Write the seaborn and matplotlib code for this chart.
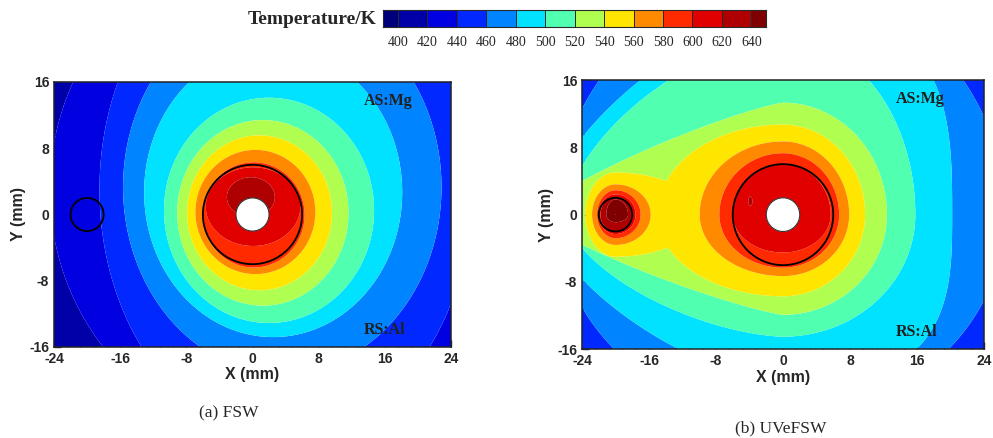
import numpy as np
import matplotlib
matplotlib.use("Agg")
import matplotlib.pyplot as plt
from matplotlib.colors import ListedColormap
from matplotlib.patches import Circle
from matplotlib.ticker import MultipleLocator
import seaborn as sns

# ---------------------------------------------------------------- data
levels = [400, 420, 440, 460, 480, 500, 520, 540, 560, 580, 600, 620, 640]
band_colors = ["#00007A", "#0000A8", "#0000E0", "#0028FF", "#0084FF", "#00E2FF",
               "#50FFB0", "#B0FF50", "#FFE600", "#FF8A00", "#FF2A00", "#E00000",
               "#AE0000", "#7E0000"]

# FSW isotherms: centre (mm) and half-widths towards +x, +y, -x, -y (mm)
fsw_cx = [4.0, 4.0, 4.0, 3.6, 2.5, 2.0, 1.25, 0.85, 0.35, 0.15, 0.07, -0.2, 0.0]
fsw_cy = [3.0, 3.0, 3.0, 3.3, 2.7, 0.5, 0.2, 0.2, 0.3, -0.05, 0.95, 2.1, 0.0]
fsw_right = [34.0, 28.5, 22.5, 19.25, 15.6, 12.7, 10.35, 8.75, 7.25, 6.15, 5.72, 2.9, 0.0]
fsw_top = [36.0, 30.0, 30.0, 22.5, 17.5, 13.6, 11.2, 9.35, 7.5, 6.35, 4.75, 2.4, 0.0]
fsw_left = [34.0, 28.5, 22.5, 19.25, 15.6, 12.7, 10.35, 8.75, 7.25, 6.15, 5.72, 2.9, 0.0]
fsw_bottom = [36.0, 30.0, 30.0, 22.5, 17.5, 13.6, 11.2, 9.35, 7.5, 6.35, 4.75, 2.4, 0.0]
fsw_shape_right = [2, 2, 2, 2, 2, 2, 2, 2, 2, 2, 2, 2, 2]
fsw_shape_left = [2, 2, 2, 2, 2, 2, 2, 2, 2, 2, 2, 2, 2]

# UVeFSW: isotherms around the main tool (the 620 K one is a small hot speck)
uve_cx = [0, 0, 0, 0, 0, 0, 0, 0, 0, 0, 0, -3.9, 0]
uve_cy = [0, 0, 0, 0, 0, 0, 0, 0, 0, 0, 0, 1.6, 0]
uve_right = [44.0, 38.0, 32.0, 26.5, 20.2, 15.8, 12.4, 9.8, 7.9, 6.7, 5.7, 0.25, 0.0]
uve_top = [44.0, 38.0, 32.0, 27.4, 24.0, 21.0, 13.3, 10.7, 8.7, 7.3, 6.0, 0.55, 0.0]
uve_left = [44.0, 38.0, 32.0, 27.0, 28.7, 26.1, 30.0, 15.0, 9.95, 7.6, 6.0, 0.25, 0.0]
uve_bottom = [44.0, 38.0, 32.0, 24.0, 20.0, 14.5, 11.9, 9.7, 7.3, 6.3, 4.5, 0.55, 0.0]
uve_shape_right = [2, 2, 2, 2, 3, 2, 2, 2, 2, 2, 2, 2, 2]
uve_shape_left = [2, 2, 2, 2, 1.5, 1.6, 1.2, 2, 2, 2, 2, 2, 2]

# UVeFSW: hot spot around the ultrasonic horn at (-20, 0)
horn_levels = [540, 560, 580, 600, 620, 640]
horn_cx = [-20.0, -20.0, -20.0, -20.0, -20.0, -20.0]
horn_cy = [0.0, 0.0, 0.0, 0.0, 0.0, 0.0]
horn_right = [10.0, 4.2, 3.0, 2.4, 2.0, 1.5]
horn_top = [5.0, 3.6, 2.9, 2.4, 2.1, 1.8]
horn_left = [3.6, 2.8, 2.2, 2.0, 1.8, 1.1]
horn_bottom = [5.0, 3.6, 2.8, 2.3, 2.0, 0.9]
horn_shape = [2, 2, 2, 2, 2, 2]

pin_radius = 2.0
shoulder_radius = 6.0
horn_xy = (-20.0, 0.0)
x_ticks = [-24, -16, -8, 0, 8, 16, 24]
y_ticks = [-16, -8, 0, 8, 16]


# ---------------------------------------------------------------- field
def isotherm_field(X, Y, lv, cx, cy, right, top, left, bottom, p_right, p_left,
                   soft=0.12):
    """Smooth field whose level lv[k] follows the k-th closed isotherm."""
    count = np.zeros_like(X)
    for k in range(len(lv)):
        if min(right[k], left[k], top[k], bottom[k]) <= 0:
            continue
        dx, dy = X - cx[k], Y - cy[k]
        a = np.where(dx >= 0, right[k], left[k])
        b = np.where(dy >= 0, top[k], bottom[k])
        p = np.where(dx >= 0, p_right[k], p_left[k])
        rho = ((np.abs(dx) / a) ** p + (np.abs(dy) / b) ** p) ** (1.0 / p)
        r = np.hypot(dx, dy)
        gap = r * (1.0 / np.maximum(rho, 1e-9) - 1.0)
        count += np.clip(0.5 + gap / soft, 0, 1)
    step = lv[1] - lv[0]
    return lv[0] - step / 2 + step * count, count


x = np.linspace(-24, 24, 961)
y = np.linspace(-16, 16, 641)
X, Y = np.meshgrid(x, y)
hole = np.hypot(X, Y) < pin_radius

T_fsw, _ = isotherm_field(X, Y, levels, fsw_cx, fsw_cy, fsw_right, fsw_top,
                          fsw_left, fsw_bottom, fsw_shape_right, fsw_shape_left)
T_main, _ = isotherm_field(X, Y, levels, uve_cx, uve_cy, uve_right, uve_top,
                           uve_left, uve_bottom, uve_shape_right, uve_shape_left,
                           soft=0.06)
T_horn, n_horn = isotherm_field(X, Y, horn_levels, horn_cx, horn_cy, horn_right,
                                horn_top, horn_left, horn_bottom, horn_shape,
                                horn_shape)
T_uve = np.maximum(T_main, np.where(n_horn > 0, T_horn, 0.0))

T_fsw = np.ma.masked_where(hole, T_fsw)
T_uve = np.ma.masked_where(hole, T_uve)

# ---------------------------------------------------------------- style
sns.set_theme(style="ticks")
plt.rcParams["font.family"] = ["Liberation Sans", "DejaVu Sans"]
plt.rcParams["axes.unicode_minus"] = False
palette = sns.color_palette(band_colors)
cmap = ListedColormap(palette)
bounds = [0] + levels + [2000]
serif = ["Liberation Serif", "DejaVu Serif"]

fig = plt.figure(figsize=(9.93, 4.38), dpi=100)
ax1 = fig.add_axes([54 / 993, 1 - 347 / 438, 397 / 993, 265 / 438])
ax2 = fig.add_axes([582 / 993, 1 - 349.3 / 438, 402 / 993, 269.3 / 438])
cax = fig.add_axes([383.3 / 993, 1 - 27.3 / 438, 382.7 / 993, 17.3 / 438])

for ax, T in [(ax1, T_fsw), (ax2, T_uve)]:
    ax.contourf(X, Y, T, levels=bounds, colors=palette, antialiased=True)
    ax.add_patch(Circle((0, 0), pin_radius, facecolor="white",
                        edgecolor="#333333", lw=0.8, zorder=3))
    ax.add_patch(Circle((0, 0), shoulder_radius, fill=False,
                        edgecolor="black", lw=1.3, zorder=3))
    ax.add_patch(Circle(horn_xy, pin_radius, fill=False,
                        edgecolor="black", lw=1.3, zorder=3))
    ax.set_xlim(-24, 24)
    ax.set_ylim(-16, 16)
    ax.set_xticks(x_ticks)
    ax.set_yticks(y_ticks)
    ax.xaxis.set_minor_locator(MultipleLocator(1.6))
    ax.yaxis.set_minor_locator(MultipleLocator(1.6))
    ax.tick_params(which="major", direction="in", length=5, width=1,
                   top=False, right=False, labelsize=10, pad=3.5)
    ax.tick_params(which="minor", direction="in", length=2.5, width=0.8,
                   top=False, right=False)
    for lab in ax.get_xticklabels() + ax.get_yticklabels():
        lab.set_fontweight("bold")
    for sp in ax.spines.values():
        sp.set_linewidth(1.1)
        sp.set_color("#222222")
    ax.set_xlabel("X (mm)", fontsize=11.5, fontweight="bold", labelpad=1)
    ax.set_ylabel("Y (mm)", fontsize=11.5, fontweight="bold", labelpad=2)
    ax.text(16.4, 13.7, "AS:Mg", ha="center", va="center", fontsize=11.5,
            fontweight="bold", family=serif, color="#202020", zorder=4)
    ax.text(16.0, -14.0, "RS:Al", ha="center", va="center", fontsize=11.5,
            fontweight="bold", family=serif, color="#202020", zorder=4)

# colour key
edges = [390] + levels + [650]
cax.pcolormesh(edges, [0, 1], np.arange(len(band_colors)).reshape(1, -1),
               cmap=cmap, vmin=-0.5, vmax=len(band_colors) - 0.5,
               edgecolors="#2a2a2a", linewidth=0.7)
cax.set_xlim(390, 650)
cax.set_ylim(0, 1)
cax.set_yticks([])
cax.set_xticks(levels)
cax.set_xticklabels([str(v) for v in levels], family=serif, fontsize=10)
cax.tick_params(axis="x", length=0, pad=6)
for sp in cax.spines.values():
    sp.set_linewidth(0.8)
    sp.set_color("#2a2a2a")

fig.text(377 / 993, 1 - 19 / 438, "Temperature/K", ha="right", va="center",
         fontsize=14, fontweight="bold", family=serif)
fig.text(229 / 993, 1 - 413 / 438, "(a) FSW", ha="center", va="center",
         fontsize=12.5, family=serif)
fig.text(781 / 993, 1 - 428 / 438, "(b) UVeFSW", ha="center", va="center",
         fontsize=12.5, family=serif)

fig.savefig("out.png", dpi=100)
